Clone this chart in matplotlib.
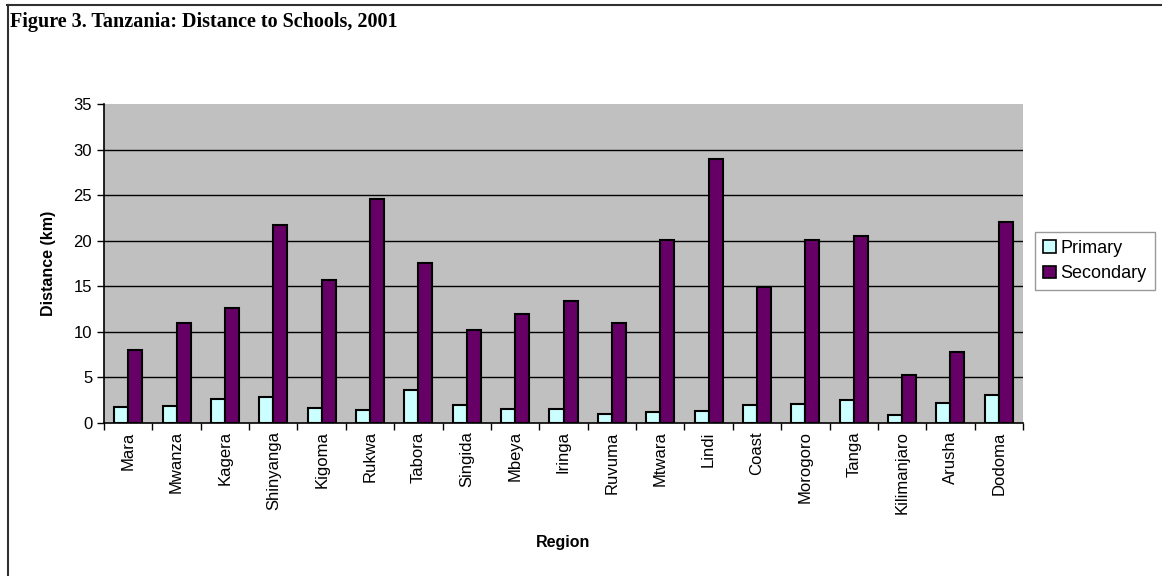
import numpy as np
import matplotlib.pyplot as plt
from matplotlib.lines import Line2D
from matplotlib.patches import Patch

regions = ["Mara", "Mwanza", "Kagera", "Shinyanga", "Kigoma", "Rukwa", "Tabora",
           "Singida", "Mbeya", "Iringa", "Ruvuma", "Mtwara", "Lindi", "Coast",
           "Morogoro", "Tanga", "Kilimanjaro", "Arusha", "Dodoma"]
primary = [1.8, 1.9, 2.6, 2.9, 1.7, 1.4, 3.6, 2.0, 1.5, 1.5, 1.0, 1.2, 1.3, 2.0,
           2.1, 2.5, 0.9, 2.2, 3.1]
secondary = [8.0, 11.0, 12.6, 21.7, 15.7, 24.6, 17.6, 10.2, 12.0, 13.4, 11.0, 20.1,
             29.0, 14.9, 20.1, 20.5, 5.3, 7.8, 22.1]

sans = "Liberation Sans"
prim_color = "#CCFFFF"
sec_color = "#660066"

fig = plt.figure(figsize=(11.62, 5.76), dpi=100)
ax = fig.add_axes([104 / 1162, 153 / 576, 919 / 1162, 319 / 576])
ax.set_facecolor("#C0C0C0")

x = np.arange(len(regions))
w = 0.29
ax.bar(x - w / 2, primary, w, color=prim_color, edgecolor="black", linewidth=1.5,
       zorder=3)
ax.bar(x + w / 2, secondary, w, color=sec_color, edgecolor="black", linewidth=1.5,
       zorder=3)

ax.set_xlim(-0.5, len(regions) - 0.5)
ax.set_ylim(0, 35)
ax.set_yticks(range(0, 36, 5))
# gridlines below the top edge only
for yv in range(5, 35, 5):
    ax.axhline(yv, color="black", linewidth=1, zorder=1)

ax.set_xticks(x)
ax.set_xticklabels(regions, rotation=90, fontsize=12, family=sans)
ax.set_xticks(np.arange(-0.5, len(regions)), minor=True)
ax.tick_params(axis="x", which="major", length=0, pad=6)
ax.tick_params(axis="x", which="minor", length=5, direction="out", width=1)
ax.tick_params(axis="y", length=5, direction="out", width=1, labelsize=12)
for lab in ax.get_yticklabels():
    lab.set_family(sans)

for s in ["top", "right"]:
    ax.spines[s].set_visible(False)
for s in ["left", "bottom"]:
    ax.spines[s].set_linewidth(1.2)

ax.set_ylabel("Distance (km)", fontsize=11.5, fontweight="bold", family=sans, labelpad=13)
ax.set_xlabel("Region", fontsize=11.5, fontweight="bold", family=sans, labelpad=15)

handles = [Patch(facecolor=prim_color, edgecolor="black", linewidth=1.2),
           Patch(facecolor=sec_color, edgecolor="black", linewidth=1.2)]
leg = fig.legend(handles, ["Primary", "Secondary"], loc="upper left",
                 bbox_to_anchor=(1035 / 1162, 1 - 232 / 576),
                 prop={"family": sans, "size": 13}, frameon=True, fancybox=False,
                 handlelength=0.7, handleheight=0.7, handletextpad=0.25,
                 borderpad=0.45, labelspacing=0.45, borderaxespad=0)
leg.get_frame().set_edgecolor("#808080")
leg.get_frame().set_linewidth(1)

fig.text(10 / 1162, 1 - 22 / 576, "Figure 3. Tanzania: Distance to Schools, 2001",
         fontsize=14.5, fontweight="bold", family="Liberation Serif", va="center")

# outer frame (top and left edges)
fig.add_artist(Line2D([7 / 1162, 1], [1 - 4.5 / 576] * 2, color="#303030", linewidth=1.5))
fig.add_artist(Line2D([7.5 / 1162] * 2, [0, 1 - 4.5 / 576], color="#303030", linewidth=1.5))

fig.savefig("out.png", dpi=100)
